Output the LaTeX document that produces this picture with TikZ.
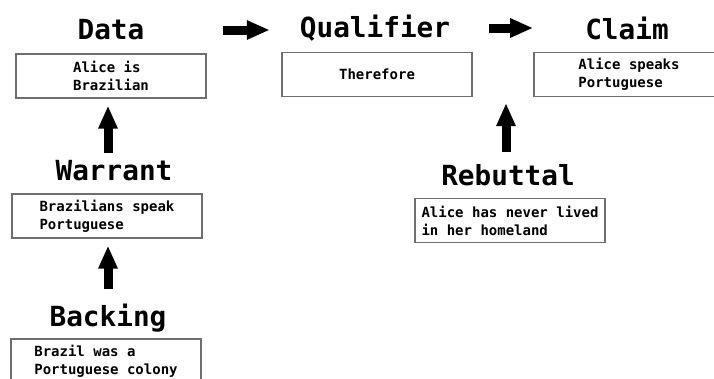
\documentclass[tikz,border=0pt]{standalone}
\usepackage{fontspec}
\setmonofont{DejaVu Sans Mono}
\usepackage{tikz}
\usetikzlibrary{arrows.meta,positioning,calc}
\definecolor{bgray}{HTML}{6E6E6E}
\tikzset{
  % Bold mono heading above each box.
  heading/.style = {inner sep=0pt, font=\fontsize{27.7}{30}\selectfont\ttfamily\bfseries},
  card/.style    = {rectangle, draw=bgray, line width=1.2pt, minimum width=190pt,
                    minimum height=44pt, inner sep=0pt, align=left,
                    font=\fontsize{14}{18}\selectfont\ttfamily\bfseries},
  fat/.style     = {-{Triangle[length=23pt,width=18pt]}, line width=9pt, black},
}
\begin{document}
\begin{tikzpicture}[x=1pt,y=-1pt]
\useasboundingbox (0,0) rectangle (714,378);
\clip (0,0) rectangle (714,378);
\node[heading] (data)     at (111,30)  {Data};
\node[heading] (qual)     at (375,28)  {Qualifier};
\node[heading] (claim)    at (627,28)  {Claim};
\node[heading] (warrant)  at (114,171) {Warrant};
\node[heading] (backing)  at (108,318) {Backing};
\node[heading] (rebuttal) at (508,175) {Rebuttal};
\node[card] (databox)     at (111,76)  {Alice is\\Brazilian};
\node[card] (qualbox)     at (377,74.5){Therefore};
\node[card] (claimbox)    at (629,74.5){Alice speaks\\Portuguese};
\node[card] (warrantbox)  at (107,216) {Brazilians speak\\Portuguese};
\node[card] (backingbox)  at (106,361) {Brazil was a\\Portuguese colony};
\node[card] (rebuttalbox) at (510,220.5){Alice has never lived\\in her homeland};
\draw[fat, shorten <=78pt, shorten >=30pt] (data.east) -- (qual.west |- data.east);
\draw[fat, shorten <=39pt, shorten >=52pt] (qual.east) -- (claim.west |- qual.east);
\draw[fat, shorten <=8pt, shorten >=7pt] ([xshift=-6pt]warrant.north) -- ([xshift=-3pt]databox.south);
\draw[fat, shorten <=15pt, shorten >=7pt] (backing.north) -- (backing.north |- warrantbox.south);
\draw[fat, shorten <=12pt, shorten >=6pt] ([xshift=-2pt]rebuttal.north) -- ([xshift=-2pt]rebuttal.north |- qualbox.south);
\end{tikzpicture}
\end{document}
